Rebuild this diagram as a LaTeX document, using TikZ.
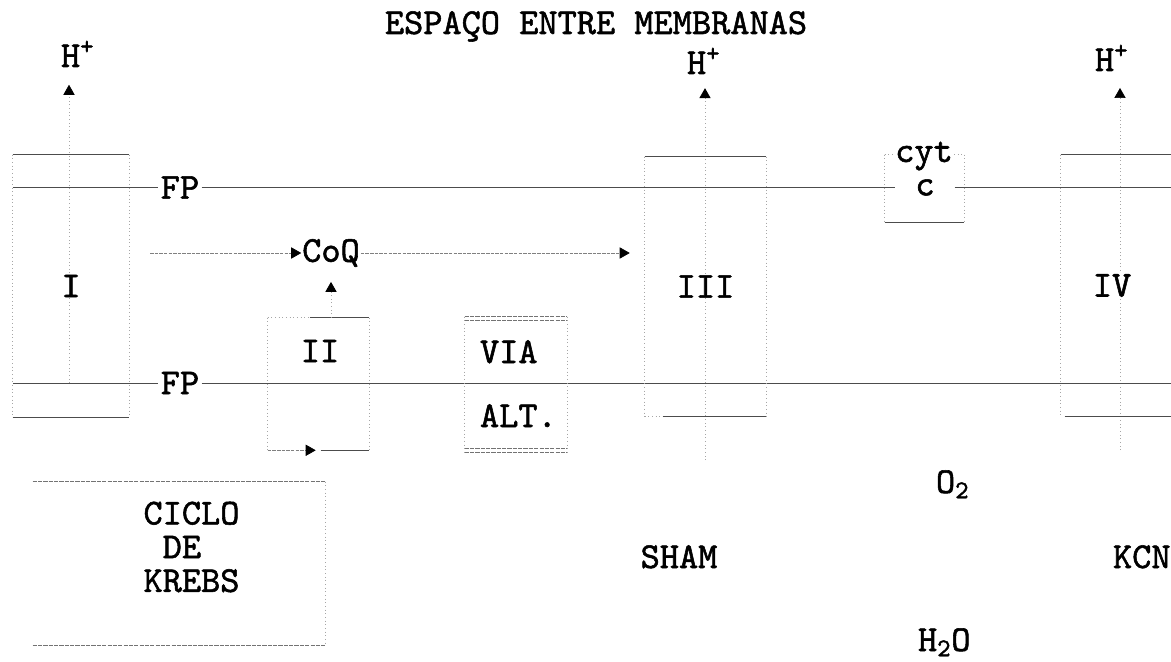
\documentclass[tikz,border=0pt]{standalone}
\usepackage{fontspec}
\newfontfamily\typewriter{lmmono10-regular.otf}[FakeBold=1.5]
\usetikzlibrary{arrows.meta,positioning}

\begin{document}
\begin{tikzpicture}[
  x=0.25mm, y=-0.25mm,
  font=\typewriter\fontsize{26}{24}\selectfont,
  % Node styles
  txt/.style={inner sep=0.5pt},
  mtext/.style={inner xsep=1.5pt, inner ysep=0.5pt},
  boxarea/.style={draw=none, inner sep=0pt},
  % Line styles
  memb/.style={draw=black!70, line width=0.6pt},
  faint/.style={draw=black!35, line width=0.5pt, dash pattern=on 0.6pt off 2pt},
  twin/.style={draw=black!55, line width=0.5pt, dash pattern=on 3pt off 0.8pt},
  arr/.style={draw=black!50, line width=0.5pt, dash pattern=on 2.5pt off 0.8pt, -{Triangle[length=2.5mm, width=2.8mm, color=black]}},
  harr/.style={faint, -{Triangle[length=2.5mm, width=2.8mm, color=black]}, shorten >=4.2mm}
]
  \useasboundingbox (0,0) rectangle (1171,662);

  % Title
  \node[inner sep=0pt, anchor=base] (title) at (596,34) {ESPAÇO ENTRE MEMBRANAS};

  % Protons
  \node[txt, anchor=base west] (hI) at (60,67) {H\textsuperscript{+}};
  \node[txt, anchor=base west] (hIII) at (686,74) {H\textsuperscript{+}};
  \node[txt, anchor=base west] (hIV) at (1094,71) {H\textsuperscript{+}};

  % Complexes (boxes)
  \node[boxarea, minimum width=29mm, minimum height=65.5mm] (I) at (71,286) {};
  \node[boxarea, minimum width=30.25mm, minimum height=64.75mm] (III) at (705.5,286.5) {};
  \node[boxarea, minimum width=27.5mm, minimum height=65.25mm] (IV) at (1116,285.5) {};
  \node[boxarea, minimum width=25.25mm, minimum height=33mm] (boxII) at (318.5,384) {};
  \node[boxarea, minimum width=25.5mm, minimum height=33.75mm] (alt) at (516,384.5) {};
  \node[boxarea, minimum width=19.75mm, minimum height=16.75mm] (cyt) at (924.5,188.5) {};
  \node[boxarea, minimum width=73mm, minimum height=40.75mm] (krebs) at (179,563.5) {};

  % Proton pumps
  \coordinate (pI) at (69,383);
  \coordinate (pIII) at (705,460);
  \coordinate (pIV) at (1120,450);
  \draw[harr] (pI) -- (pI |- hI.south);
  \draw[harr, shorten >=3.3mm] (pIII) -- (pIII |- hIII.south);
  \draw[harr, shorten >=4mm] (pIV) -- (pIV |- hIV.south);

  % Membrane labels
  \node[mtext] (fpU) at (180,187.5) {FP};
  \node[mtext] (fpL) at (180,383) {FP};
  \node[inner xsep=14pt, inner ysep=0.5pt] (c) at (925,187.5) {c};
  \node[txt] (CoQ) at (331,253) {CoQ};

  % Membranes
  \coordinate (mUl) at (13,187.5);
  \coordinate (mUr) at (1171,187.5);
  \coordinate (mLl) at (13,383);
  \coordinate (mLr) at (1171,383);
  \draw[memb] (mUl) -- (fpU) (fpU) -- (c) (c) -- (mUr);
  \draw[memb] (mLl) -- (fpL) (fpL) -- (mLr);

  % Complex I
  \draw[memb] (I.north west) -- (I.north east);
  \draw[memb] (I.south west) -- (I.south east);
  \draw[faint] (I.north west) -- (I.south west) (I.north east) -- (I.south east);
  \node[txt, fill=white] (lI) at (I.center) {I};

  % Complex II
  \draw[faint] (boxII.north west) -- (boxII.south west) (boxII.north east) -- (boxII.south east);
  \draw[faint] (boxII.north west) -- ++(42,0);
  \draw[memb] (boxII.north west) ++(42,0) -- (boxII.north east);
  \draw[arr] (boxII.south west) -- ++(48,0);
  \draw[memb] (boxII.south west) ++(53,0) -- (boxII.south east);
  \node[txt] (II) at (320,351) {II};
  \draw[harr, shorten >=3.5mm] (boxII.north -| CoQ) -- (CoQ);

  % Ubiquinone
  \coordinate (qsrc) at (150,253);
  \draw[arr] (qsrc) -- (CoQ);
  \draw[arr, shorten >=3.75mm] (CoQ) -- (CoQ -| III.west);

  % Alternative pathway
  \draw[twin] (alt.north west) -- (alt.north east) ([yshift=-1mm]alt.north west) -- ([yshift=-1mm]alt.north east);
  \draw[twin] (alt.south west) -- (alt.south east) ([yshift=1mm]alt.south west) -- ([yshift=1mm]alt.south east);
  \draw[faint] (alt.north west) -- (alt.south west) (alt.north east) -- (alt.south east);
  \node[txt, anchor=base west] (via) at (479,363) {VIA};
  \node[txt, anchor=base west] (altl) at (479,427) {ALT.};

  % Complex III
  \draw[memb] (III.north west) -- (III.north east);
  \draw[faint] (III.north west) -- (III.south west) (III.north east) -- (III.south east);
  \draw[faint] (III.south west) -- ++(18,0);
  \draw[memb] (III.south west) ++(18,0) -- (III.south east);
  \node[txt, fill=white] (lIII) at (III.center) {III};

  % Cytochrome c
  \draw[faint] (cyt.north west) -- (cyt.south west) (cyt.north east) -- (cyt.south east) (cyt.north west) -- (cyt.north east);
  \draw[memb] (cyt.south west) -- (cyt.south east);
  \node[txt, anchor=base, fill=white, inner xsep=1pt] (cytl) at (924,162) {cyt};

  % Complex IV
  \draw[memb] (IV.north west) -- (IV.north east);
  \draw[memb] (IV.south west) ++(4,0) -- (IV.south east);
  \draw[faint] (IV.north west) -- (IV.south west);
  \node[txt, fill=white] (lIV) at ([xshift=-1mm]IV.center) {IV};

  % Krebs cycle
  \draw[twin] (krebs.north west) -- (krebs.north east);
  \draw[twin] (krebs.south west) -- (krebs.south east);
  \draw[faint] (krebs.north east) -- (krebs.south east);
  \node[txt, align=left] (ciclo) at (191.5,547) {CICLO\\\hphantom{C}DE\\KREBS};

  % Inhibitors and oxygen
  \node[txt, anchor=base] (sham) at (679,568) {SHAM};
  \node[txt, anchor=base west] (kcn) at (1112,568) {KCN};
  \node[txt, anchor=base west] (o2) at (935,493) {O\textsubscript{2}};
  \node[txt, anchor=base west] (h2o) at (917,651) {H\textsubscript{2}O};
\end{tikzpicture}
\end{document}
